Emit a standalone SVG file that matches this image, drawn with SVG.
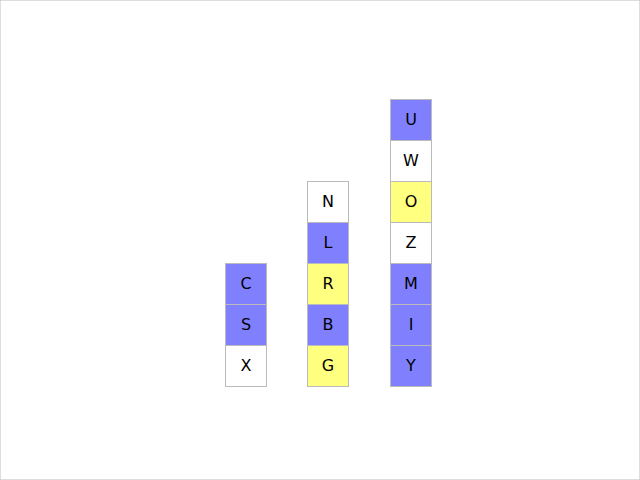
<svg xmlns="http://www.w3.org/2000/svg" width="640" height="480" viewBox="0 0 640 480">
<style>
rect{stroke:#bbbbbb;stroke-width:1}
.b{fill:#8080ff}.y{fill:#ffff80}.w{fill:#ffffff}
text{font-family:"DejaVu Sans",sans-serif;font-size:16px;text-anchor:middle;dominant-baseline:central;fill:#000}
</style>
<rect x="0" y="0" width="640" height="480" fill="#fff" stroke="none"/>
<g id="col1">
<g id="C"><rect class="b" x="225.5" y="263.5" width="41" height="41"/><text x="246" y="283">C</text></g>
<g id="S"><rect class="b" x="225.5" y="304.5" width="41" height="41"/><text x="246" y="324">S</text></g>
<g id="X"><rect class="w" x="225.5" y="345.5" width="41" height="41"/><text x="246" y="365">X</text></g>
</g>
<g id="col2">
<g id="N"><rect class="w" x="307.5" y="181.5" width="41" height="41"/><text x="328" y="201">N</text></g>
<g id="L"><rect class="b" x="307.5" y="222.5" width="41" height="41"/><text x="328" y="242">L</text></g>
<g id="R"><rect class="y" x="307.5" y="263.5" width="41" height="41"/><text x="328" y="283">R</text></g>
<g id="B"><rect class="b" x="307.5" y="304.5" width="41" height="41"/><text x="328" y="324">B</text></g>
<g id="G"><rect class="y" x="307.5" y="345.5" width="41" height="41"/><text x="328" y="365">G</text></g>
</g>
<g id="col3">
<g id="U"><rect class="b" x="390.5" y="99.5" width="41" height="41"/><text x="411" y="119">U</text></g>
<g id="W"><rect class="w" x="390.5" y="140.5" width="41" height="41"/><text x="411" y="160">W</text></g>
<g id="O"><rect class="y" x="390.5" y="181.5" width="41" height="41"/><text x="411" y="201">O</text></g>
<g id="Z"><rect class="w" x="390.5" y="222.5" width="41" height="41"/><text x="411" y="242">Z</text></g>
<g id="M"><rect class="b" x="390.5" y="263.5" width="41" height="41"/><text x="411" y="283">M</text></g>
<g id="I"><rect class="b" x="390.5" y="304.5" width="41" height="41"/><text x="411" y="324">I</text></g>
<g id="Y"><rect class="b" x="390.5" y="345.5" width="41" height="41"/><text x="411" y="365">Y</text></g>
</g>
<g id="connectors"/>
</svg>
